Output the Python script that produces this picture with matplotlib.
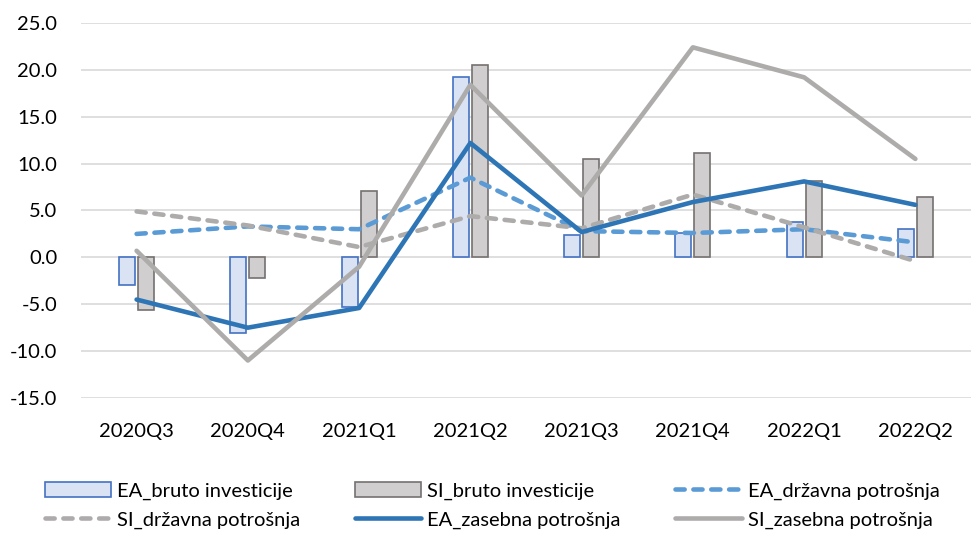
import matplotlib
matplotlib.use("Agg")
import matplotlib.pyplot as plt
import numpy as np

quarters = ["2020Q3", "2020Q4", "2021Q1", "2021Q2", "2021Q3", "2021Q4", "2022Q1", "2022Q2"]

ea_bruto = [-3.0, -8.1, -5.3, 19.2, 2.4, 2.6, 3.8, 3.0]
si_bruto = [-5.6, -2.2, 7.1, 20.5, 10.5, 11.1, 8.1, 6.4]
ea_drzavna = [2.5, 3.3, 3.0, 8.5, 2.8, 2.6, 3.0, 1.6]
si_drzavna = [4.9, 3.4, 1.1, 4.4, 3.1, 6.7, 3.2, -0.4]
ea_zasebna = [-4.5, -7.5, -5.4, 12.2, 2.7, 5.9, 8.1, 5.6]
si_zasebna = [0.7, -11.0, -1.0, 18.4, 6.6, 22.4, 19.2, 10.5]

plt.rcParams["font.family"] = ["Lato", "DejaVu Sans"]

fig = plt.figure(figsize=(9.71, 5.34), dpi=100)
ax = fig.add_axes([0.0834, 0.2547, 0.9166, 0.7023])

x = np.arange(len(quarters))
w = 0.145
off = 0.085

b1 = ax.bar(x - off, ea_bruto, width=w, color="#DAE3F3", edgecolor="#4472C4",
            linewidth=1.2, label="EA_bruto investicije", zorder=2)
b2 = ax.bar(x + off, si_bruto, width=w, color="#D0CECE", edgecolor="#767171",
            linewidth=1.2, label="SI_bruto investicije", zorder=2)

dash = (0, (2.0, 1.9))
lw = 3.3
l1, = ax.plot(x, ea_drzavna, color="#5B9BD5", lw=lw, linestyle=dash,
              dash_capstyle="round", label="EA_državna potrošnja", zorder=3)
l2, = ax.plot(x, si_drzavna, color="#AEABAB", lw=lw, linestyle=dash,
              dash_capstyle="round", label="SI_državna potrošnja", zorder=3)
l3, = ax.plot(x, ea_zasebna, color="#2E75B6", lw=lw, solid_capstyle="round",
              label="EA_zasebna potrošnja", zorder=4)
l4, = ax.plot(x, si_zasebna, color="#AEABAB", lw=lw, solid_capstyle="round",
              label="SI_zasebna potrošnja", zorder=4)

ax.set_xlim(-0.5, len(quarters) - 0.5)
ax.set_ylim(-15, 25)
ax.set_yticks(np.arange(-15, 26, 5))
ax.set_yticklabels([f"{v:.1f}" for v in np.arange(-15, 26, 5)])
ax.set_xticks(x)
ax.set_xticklabels(quarters)
ax.tick_params(axis="both", length=0, labelsize=14.5, colors="#000000")
ax.tick_params(axis="x", pad=18)
ax.tick_params(axis="y", pad=17)
ax.grid(axis="y", color="#D9D9D9", linewidth=1.2, zorder=0)
ax.set_axisbelow(True)
for s in ax.spines.values():
    s.set_visible(False)

# legend is filled column by column, so order handles to read row by row
handles = [b1, l2, b2, l3, l1, l4]
labels = [h.get_label() for h in handles]
ax.legend(handles, labels, loc="upper center", bbox_to_anchor=(0.462, -0.175),
          ncol=3, frameon=False, fontsize=14.5, handlelength=3.3,
          handleheight=0.8, columnspacing=2.7, handletextpad=0.3,
          labelspacing=0.55)

fig.savefig("out.png", dpi=100)
